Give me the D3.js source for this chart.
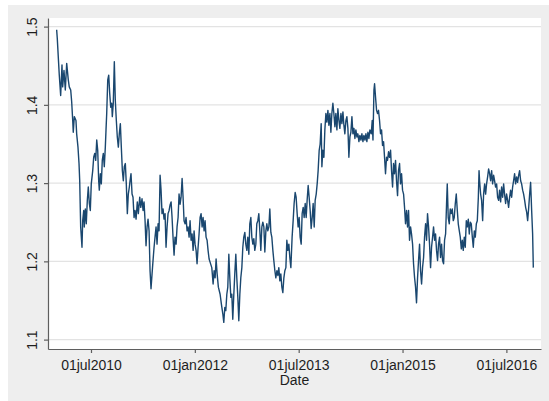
<!DOCTYPE html>
<html>
<head>
<meta charset="utf-8">
<script src="https://cdn.jsdelivr.net/npm/d3@7"></script>
<style>
  body { margin: 0; background: #fff; }
  text { font-family: "Liberation Sans", Arial, sans-serif; }
</style>
</head>
<body>
<div id="chart"></div>
<script>
// dates as decimal years
var dates = [
  2010.004,2010.013,2010.027,2010.042,2010.062,2010.081,2010.091,2010.110,2010.129,2010.149,
  2010.172,2010.186,2010.207,2010.221,2010.236,2010.244,2010.259,2010.283,2010.293,2010.312,
  2010.327,2010.337,2010.345,2010.351,2010.370,2010.380,2010.395,2010.403,2010.418,2010.432,
  2010.447,2010.461,2010.476,2010.490,2010.504,2010.525,2010.539,2010.554,2010.568,2010.583,
  2010.597,2010.611,2010.620,2010.635,2010.649,2010.663,2010.678,2010.692,2010.707,2010.717,
  2010.727,2010.742,2010.756,2010.770,2010.785,2010.799,2010.808,2010.822,2010.837,2010.851,
  2010.866,2010.880,2010.895,2010.909,2010.924,2010.938,2010.953,2010.967,2010.981,2010.996,
  2011.010,2011.025,2011.039,2011.054,2011.064,2011.078,2011.093,2011.107,2011.122,2011.136,
  2011.151,2011.169,2011.184,2011.204,2011.219,2011.237,2011.252,2011.266,2011.281,2011.295,
  2011.310,2011.324,2011.339,2011.353,2011.367,2011.382,2011.396,2011.411,2011.425,2011.440,
  2011.454,2011.469,2011.483,2011.498,2011.512,2011.526,2011.541,2011.555,2011.570,2011.584,
  2011.599,2011.613,2011.628,2011.642,2011.657,2011.671,2011.685,2011.700,2011.714,2011.729,
  2011.743,2011.758,2011.772,2011.787,2011.801,2011.816,2011.830,2011.844,2011.859,2011.873,
  2011.888,2011.902,2011.917,2011.931,2011.946,2011.960,2011.975,2011.989,2012.003,2012.018,
  2012.032,2012.047,2012.061,2012.076,2012.090,2012.105,2012.119,2012.134,2012.148,2012.162,
  2012.177,2012.191,2012.206,2012.220,2012.245,2012.264,2012.278,2012.293,2012.307,2012.322,
  2012.340,2012.365,2012.384,2012.404,2012.418,2012.433,2012.447,2012.462,2012.476,2012.491,
  2012.505,2012.520,2012.534,2012.548,2012.563,2012.577,2012.592,2012.606,2012.621,2012.635,
  2012.650,2012.664,2012.679,2012.693,2012.707,2012.722,2012.736,2012.751,2012.765,2012.780,
  2012.794,2012.809,2012.823,2012.838,2012.852,2012.866,2012.881,2012.895,2012.910,2012.924,
  2012.939,2012.953,2012.968,2012.982,2012.997,2013.011,2013.026,2013.040,2013.054,2013.069,
  2013.083,2013.098,2013.112,2013.127,2013.141,2013.156,2013.170,2013.185,2013.199,2013.213,
  2013.228,2013.242,2013.257,2013.271,2013.286,2013.300,2013.315,2013.329,2013.343,2013.358,
  2013.372,2013.387,2013.405,2013.420,2013.434,2013.449,2013.463,2013.478,2013.492,2013.507,
  2013.521,2013.536,2013.550,2013.565,2013.579,2013.594,2013.608,2013.622,2013.637,2013.651,
  2013.666,2013.680,2013.695,2013.709,2013.724,2013.738,2013.753,2013.767,2013.781,2013.796,
  2013.810,2013.825,2013.835,2013.849,2013.864,2013.878,2013.893,2013.907,2013.922,2013.936,
  2013.951,2013.965,2013.979,2013.994,2014.008,2014.023,2014.037,2014.052,2014.066,2014.081,
  2014.095,2014.110,2014.124,2014.139,2014.153,2014.167,2014.182,2014.196,2014.211,2014.225,
  2014.240,2014.254,2014.269,2014.283,2014.298,2014.312,2014.326,2014.341,2014.355,2014.370,
  2014.384,2014.399,2014.413,2014.428,2014.442,2014.457,2014.471,2014.485,2014.500,2014.514,
  2014.529,2014.548,2014.562,2014.573,2014.587,2014.596,2014.610,2014.625,2014.639,2014.653,
  2014.668,2014.682,2014.697,2014.711,2014.726,2014.740,2014.754,2014.769,2014.783,2014.798,
  2014.812,2014.827,2014.841,2014.856,2014.870,2014.884,2014.899,2014.913,2014.928,2014.942,
  2014.957,2014.971,2014.986,2015.000,2015.015,2015.029,2015.043,2015.058,2015.072,2015.087,
  2015.101,2015.116,2015.130,2015.145,2015.159,2015.174,2015.188,2015.202,2015.217,2015.231,
  2015.246,2015.260,2015.275,2015.289,2015.304,2015.318,2015.333,2015.347,2015.361,2015.376,
  2015.390,2015.405,2015.419,2015.434,2015.448,2015.463,2015.477,2015.491,2015.506,2015.520,
  2015.535,2015.549,2015.564,2015.578,2015.593,2015.607,2015.622,2015.636,2015.646,2015.660,
  2015.675,2015.689,2015.704,2015.718,2015.733,2015.747,2015.762,2015.776,2015.791,2015.805,
  2015.820,2015.834,2015.849,2015.863,2015.877,2015.892,2015.906,2015.921,2015.935,2015.950,
  2015.964,2015.979,2015.993,2016.008,2016.022,2016.037,2016.051,2016.066,2016.080,2016.095,
  2016.105,2016.113,2016.128,2016.142,2016.157,2016.171,2016.186,2016.200,2016.214,2016.229,
  2016.243,2016.258,2016.272,2016.287,2016.301,2016.316,2016.330,2016.344,2016.359,2016.373,
  2016.388,2016.402,2016.417,2016.431,2016.446,2016.460,2016.474,2016.489,2016.503,2016.518,
  2016.532,2016.547,2016.561,2016.576,2016.590,2016.604,2016.619,2016.633,2016.648,2016.662,
  2016.677,2016.691,2016.706,2016.720,2016.735,2016.749,2016.764,2016.778,2016.793,2016.807,
  2016.821,2016.836,2016.850,2016.865,2016.879,2016.889
];

var values = [
  1.496,1.485,1.462,1.438,1.412,1.451,1.423,1.444,1.419,1.453,
  1.432,1.423,1.419,1.404,1.380,1.365,1.385,1.380,1.363,1.346,
  1.325,1.303,1.269,1.244,1.218,1.252,1.265,1.244,1.267,1.248,
  1.278,1.295,1.274,1.265,1.299,1.316,1.333,1.338,1.329,1.355,
  1.342,1.303,1.291,1.312,1.299,1.329,1.338,1.321,1.346,1.368,
  1.389,1.432,1.438,1.415,1.397,1.402,1.385,1.402,1.455,1.406,
  1.380,1.359,1.346,1.363,1.376,1.346,1.316,1.303,1.321,1.325,
  1.299,1.261,1.286,1.295,1.303,1.312,1.286,1.282,1.256,1.265,
  1.254,1.276,1.261,1.282,1.269,1.280,1.265,1.276,1.252,1.220,
  1.244,1.254,1.239,1.188,1.165,1.184,1.201,1.218,1.231,1.244,
  1.222,1.248,1.239,1.310,1.291,1.261,1.267,1.254,1.261,1.218,
  1.244,1.261,1.265,1.272,1.276,1.256,1.231,1.208,1.231,1.222,
  1.244,1.256,1.286,1.273,1.282,1.306,1.282,1.252,1.248,1.256,
  1.239,1.244,1.231,1.252,1.227,1.235,1.214,1.239,1.222,1.214,
  1.197,1.218,1.235,1.256,1.261,1.244,1.256,1.239,1.252,1.231,
  1.227,1.214,1.203,1.199,1.192,1.171,1.188,1.179,1.203,1.184,
  1.167,1.158,1.145,1.133,1.122,1.141,1.137,1.158,1.167,1.209,
  1.179,1.154,1.158,1.126,1.158,1.184,1.209,1.179,1.154,1.124,
  1.158,1.179,1.192,1.218,1.231,1.237,1.222,1.214,1.231,1.209,
  1.248,1.256,1.231,1.222,1.229,1.214,1.222,1.248,1.252,1.261,
  1.239,1.214,1.244,1.250,1.244,1.212,1.239,1.248,1.239,1.244,
  1.267,1.237,1.231,1.214,1.201,1.188,1.179,1.188,1.182,1.192,
  1.175,1.184,1.167,1.160,1.179,1.188,1.192,1.227,1.214,1.222,
  1.205,1.192,1.231,1.252,1.274,1.288,1.282,1.261,1.244,1.256,
  1.231,1.222,1.261,1.269,1.256,1.274,1.256,1.278,1.297,1.282,
  1.265,1.242,1.256,1.274,1.244,1.278,1.286,1.299,1.316,1.342,
  1.350,1.376,1.321,1.342,1.333,1.368,1.389,1.378,1.393,1.374,
  1.389,1.365,1.389,1.402,1.389,1.372,1.389,1.368,1.395,1.380,
  1.370,1.389,1.376,1.391,1.374,1.363,1.380,1.385,1.370,1.333,
  1.359,1.365,1.385,1.363,1.370,1.357,1.368,1.359,1.363,1.353,
  1.361,1.355,1.363,1.353,1.361,1.355,1.363,1.353,1.365,1.357,
  1.368,1.363,1.380,1.355,1.419,1.427,1.410,1.393,1.389,1.393,
  1.380,1.363,1.368,1.348,1.353,1.333,1.312,1.333,1.329,1.340,
  1.333,1.342,1.316,1.295,1.325,1.312,1.329,1.303,1.284,1.316,
  1.325,1.299,1.312,1.291,1.286,1.269,1.248,1.265,1.244,1.265,
  1.227,1.244,1.235,1.222,1.197,1.179,1.167,1.147,1.179,1.201,
  1.222,1.188,1.171,1.192,1.205,1.231,1.248,1.227,1.261,1.244,
  1.222,1.192,1.218,1.231,1.244,1.227,1.235,1.214,1.201,1.222,
  1.231,1.205,1.222,1.201,1.197,1.227,1.235,1.274,1.299,1.256,
  1.248,1.267,1.261,1.267,1.252,1.256,1.274,1.286,1.265,1.248,
  1.239,1.231,1.216,1.227,1.214,1.231,1.218,1.252,1.244,1.254,
  1.235,1.250,1.248,1.231,1.218,1.239,1.231,1.248,1.252,1.282,
  1.316,1.303,1.286,1.278,1.252,1.286,1.299,1.286,1.299,1.308,
  1.318,1.312,1.303,1.316,1.299,1.310,1.303,1.295,1.299,1.282,
  1.278,1.291,1.276,1.295,1.282,1.299,1.286,1.274,1.286,1.278,
  1.269,1.282,1.291,1.282,1.295,1.303,1.312,1.299,1.308,1.301,
  1.310,1.316,1.303,1.299,1.291,1.286,1.278,1.269,1.263,1.252,
  1.267,1.286,1.301,1.265,1.235,1.192
];

var yTicks = [1.1, 1.2, 1.3, 1.4, 1.5];
var xTickDates = [2010.5, 2012.0, 2013.5, 2015.0, 2016.5];
var xTickLabels = ["01jul2010", "01jan2012", "01jul2013", "01jan2015", "01jul2016"];
var xTitle = "Date";

var width = 549, height = 401;
var plotL = 48, plotR = 541, plotT = 18, plotB = 349;

var svg = d3.select("#chart").append("svg")
    .attr("width", width)
    .attr("height", height);

// graph region (grey) and plot region (white)
svg.append("rect")
    .attr("x", 8).attr("y", 5)
    .attr("width", width - 8).attr("height", height - 5)
    .style("fill", "#eeeeee");
svg.append("rect")
    .attr("x", plotL).attr("y", plotT)
    .attr("width", plotR - plotL).attr("height", plotB - plotT)
    .style("fill", "#ffffff");

var x = d3.scaleLinear().domain([2009.879, 2017.0]).range([plotL, plotR]);
var y = d3.scaleLinear().domain([1.088, 1.511]).range([plotB, plotT]);

// grid
svg.append("g").selectAll("line")
    .data(yTicks)
    .enter()
    .append("line")
    .attr("x1", plotL).attr("x2", plotR)
    .attr("y1", function(d){ return y(d); })
    .attr("y2", function(d){ return y(d); })
    .style("stroke", "#e3e3e3")
    .style("stroke-width", 1.4);

// series
var series = dates.map(function(d, i){ return {t: d, v: values[i]}; });
var line = d3.line()
    .x(function(d){ return x(d.t); })
    .y(function(d){ return y(d.v); });

svg.append("path")
    .datum(series)
    .attr("d", line)
    .style("fill", "none")
    .style("stroke", "#1a476f")
    .style("stroke-width", 1.4)
    .style("stroke-linejoin", "round");

// y axis
var yAxis = svg.append("g")
    .attr("transform", "translate(" + plotL + ",0)")
    .call(d3.axisLeft(y).tickValues(yTicks).tickSize(4).tickSizeOuter(0)
        .tickFormat(d3.format(".1f")));
yAxis.selectAll("text")
    .attr("x", null).attr("dy", null)
    .attr("transform", "translate(-11,0) rotate(-90)")
    .attr("text-anchor", "middle")
    .attr("font-size", "14px")
    .attr("fill", "#1e1e1e");

// x axis
var xAxis = svg.append("g")
    .attr("transform", "translate(0," + plotB + ")")
    .call(d3.axisBottom(x).tickValues(xTickDates).tickSize(4).tickSizeOuter(0)
        .tickFormat(function(d, i){ return xTickLabels[i]; }));
xAxis.selectAll("text")
    .attr("y", 21).attr("dy", 0)
    .attr("font-size", "14px")
    .attr("fill", "#1e1e1e");

svg.selectAll(".domain, .tick line")
    .style("stroke", "#5e5e5e")
    .style("stroke-width", 1.2);
svg.selectAll(".tick text").style("font-family", "'Liberation Sans', Arial, sans-serif");

svg.append("text")
    .attr("x", (plotL + plotR) / 2)
    .attr("y", 385)
    .attr("text-anchor", "middle")
    .attr("font-size", "14px")
    .attr("fill", "#1e1e1e")
    .text(xTitle);
</script>
</body>
</html>
